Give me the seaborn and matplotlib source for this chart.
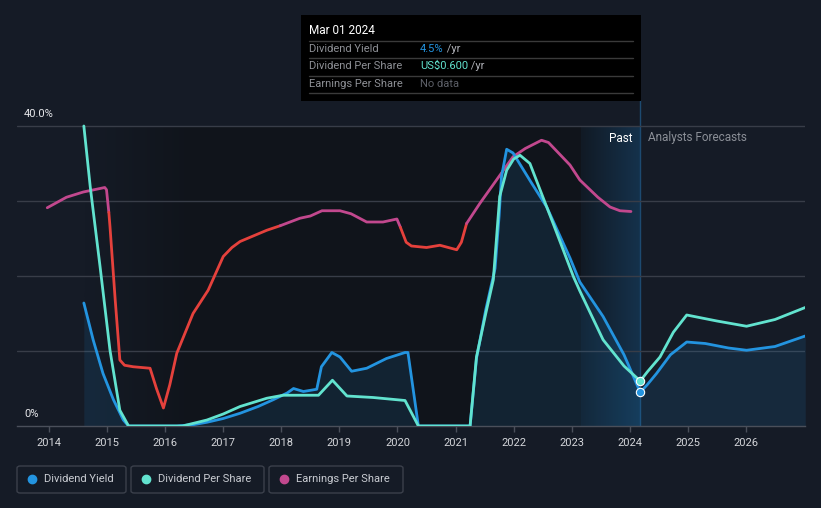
import numpy as np
import pandas as pd
import matplotlib
matplotlib.use("Agg")
import matplotlib.pyplot as plt
from matplotlib.patches import Rectangle, FancyBboxPatch
from matplotlib.colors import LinearSegmentedColormap
import seaborn as sns

# dividend yield (%)
dy_year = [2014.6, 2014.76, 2014.93, 2015.11, 2015.28, 2015.37, 2016.2, 2016.5, 2016.72, 2017.0,
           2017.29, 2017.6, 2017.86, 2018.1, 2018.21, 2018.38, 2018.61, 2018.69, 2018.87, 2019.01,
           2019.21, 2019.47, 2019.81, 2020.13, 2020.18, 2020.36, 2021.25, 2021.36, 2021.52, 2021.68,
           2021.75, 2021.79, 2021.88, 2021.99, 2022.3, 2022.57, 2022.97, 2023.14, 2023.54, 2023.9,
           2024.18, 2024.3, 2024.46, 2024.7, 2024.98, 2025.3, 2025.7, 2026.01, 2026.5, 2027.02]
dy_val = [16.4, 11.5, 7.0, 3.5, 0.8, 0.0, 0.0, 0.2, 0.5, 1.0,
          1.7, 2.6, 3.5, 4.4, 5.0, 4.6, 4.9, 7.9, 9.8, 9.2,
          7.3, 7.7, 9.0, 9.8, 9.8, 0.0, 0.0, 9.0, 15.5, 21.0,
          28.0, 33.2, 36.9, 36.4, 32.5, 29.2, 22.4, 19.2, 14.6, 9.5,
          4.5, 5.5, 7.0, 9.5, 11.2, 11.0, 10.4, 10.1, 10.6, 12.0]

# dividend per share, same scale as drawn
dps_year = [2014.6, 2014.71, 2014.88, 2015.05, 2015.22, 2015.37, 2016.3, 2016.72, 2017.0, 2017.29,
            2017.75, 2018.03, 2018.64, 2018.88, 2019.13, 2019.58, 2020.13, 2020.36, 2021.25, 2021.36,
            2021.52, 2021.65, 2021.76, 2021.88, 2022.0, 2022.11, 2022.28, 2022.68, 2023.03, 2023.14,
            2023.54, 2023.9, 2024.18, 2024.3, 2024.52, 2024.75, 2024.98, 2025.5, 2026.01, 2026.5, 2027.02]
dps_val = [40.0, 31.9, 21.2, 10.1, 2.1, 0.0, 0.0, 0.8, 1.6, 2.6,
           3.7, 4.1, 4.1, 6.1, 4.0, 3.8, 3.4, 0.0, 0.0, 9.2,
           15.0, 19.5, 30.6, 34.1, 35.6, 36.1, 35.0, 27.0, 19.9, 18.0,
           11.5, 8.0, 6.0, 7.2, 9.2, 12.5, 14.8, 14.0, 13.3, 14.2, 15.8]

# earnings per share, split where the line changes colour
eps_year = [2013.97, 2014.3, 2014.59, 2014.96, 2014.99, 2015.03,
            2015.03, 2015.05, 2015.14, 2015.22, 2015.3, 2015.45, 2015.74, 2015.85, 2015.97, 2016.08,
            2016.2, 2016.48, 2016.74, 2017.0, 2017.15, 2017.29, 2017.75, 2017.98,
            2017.98, 2018.32, 2018.5, 2018.7, 2019.01, 2019.2, 2019.47, 2019.75, 2019.99, 2020.05,
            2020.05, 2020.15, 2020.24, 2020.5, 2020.73, 2021.02, 2021.1, 2021.19,
            2021.19, 2021.42, 2021.99, 2022.2, 2022.48, 2022.6, 2022.97, 2023.14, 2023.45, 2023.66,
            2023.83, 2024.02]
eps_val = [29.1, 30.5, 31.2, 31.8, 31.5, 28.5,
           28.5, 26.6, 16.8, 8.8, 8.1, 7.9, 7.7, 5.0, 2.4, 5.5,
           9.7, 15.0, 18.1, 22.6, 23.8, 24.6, 26.1, 26.7,
           26.7, 27.7, 28.0, 28.7, 28.7, 28.3, 27.2, 27.2, 27.6, 26.5,
           26.5, 24.5, 24.0, 23.8, 24.1, 23.5, 24.5, 27.0,
           27.0, 29.7, 35.9, 37.0, 38.1, 37.8, 34.8, 32.8, 30.5, 29.2,
           28.7, 28.6]
eps_seg = [0] * 6 + [1] * 18 + [2] * 10 + [3] * 8 + [4] * 12
seg_trend = ["up", "down", "up", "down", "up"]

years = list(range(2014, 2027))
marker_year = 2024.18
past_start = 2023.16

BG = "#151b26"
DARK = "#10141b"
BLUE = "#2394e0"
TEAL = "#62e3cf"
MAGENTA = "#c2488e"
RED = "#e5413c"
GRID = "#383d48"

sns.set_style("dark", {"axes.facecolor": BG, "figure.facecolor": BG})

W, H = 821, 508
fig = plt.figure(figsize=(W / 100, H / 100), dpi=100)
fig.patch.set_facecolor(BG)
ax = fig.add_axes([17 / W, 82 / H, 788 / W, 326 / H])
ax.set_facecolor(BG)

x0 = 2014 + (17 - 49) / 58.08
x1 = 2014 + (805 - 49) / 58.08
ymax = (426 - 100) / 7.5
ax.set_xlim(x0, x1)
ax.set_ylim(0, ymax)


def fpos(x, y):
    return x / W, 1 - y / H


# past area fades darker towards the highlighted band before the marker
fade = LinearSegmentedColormap.from_list("fade", [BG, DARK])
ax.imshow(np.linspace(0, 1, 100).reshape(1, -1), cmap=fade, aspect="auto",
          extent=[2014.6, 2016.5, 0, 40], zorder=0.4)
ax.axvspan(2016.5, past_start, ymin=0, ymax=40 / ymax, color=DARK, zorder=0.4, lw=0)
cmap = LinearSegmentedColormap.from_list("band", ["#111a25", "#15324c"])
ax.imshow(np.linspace(0, 1, 100).reshape(1, -1), cmap=cmap, aspect="auto",
          extent=[past_start, marker_year, 0, 40], zorder=0.5)
ax.axvline(marker_year, ymin=0, ymax=1, color="#1d4a70", lw=1, zorder=1)

for g in [10, 20, 30, 40]:
    ax.axhline(g, color=GRID, lw=1, zorder=1)

ax.fill_between(dy_year, dy_val, 0, color=BLUE, alpha=0.12, lw=0, zorder=2)

dy = pd.DataFrame({"year": dy_year, "value": dy_val})
dps = pd.DataFrame({"year": dps_year, "value": dps_val})
eps = pd.DataFrame({"year": eps_year, "value": eps_val, "seg": eps_seg})

style = dict(lw=2, estimator=None, sort=False, ax=ax, solid_joinstyle="round", solid_capstyle="round")
sns.lineplot(data=dy, x="year", y="value", color=BLUE, zorder=4, **style)
sns.lineplot(data=dps, x="year", y="value", color=TEAL, zorder=4, **style)
for s, trend in enumerate(seg_trend):
    part = eps[eps["seg"] == s]
    sns.lineplot(data=part, x="year", y="value", color=MAGENTA if trend == "up" else RED,
                 zorder=3, **style)

ax.plot([marker_year], [dps_val[dps_year.index(marker_year)]], "o", color=TEAL, ms=6,
        mec="white", mew=0.8, zorder=6)
ax.plot([marker_year], [dy_val[dy_year.index(marker_year)]], "o", color=BLUE, ms=6,
        mec="white", mew=0.8, zorder=6)

for sp in ["top", "left", "right"]:
    ax.spines[sp].set_visible(False)
ax.spines["bottom"].set_color("#4a4f5a")
ax.spines["bottom"].set_linewidth(1)
ax.set_xticks(years)
ax.set_xticklabels([str(y) for y in years])
ax.tick_params(axis="x", colors="#4a4f5a", length=4, width=1, labelcolor="#d4d6da",
               labelsize=8, pad=5, bottom=True, direction="out")
ax.set_yticks([])
ax.set_xlabel("")
ax.set_ylabel("")
ax.grid(False)
for lbl in ax.get_xticklabels():
    lbl.set_family("Roboto")

fig.text(*fpos(24, 114), "40.0%", color="#e6e7ea", fontsize=8, family="Roboto", va="center")
fig.text(*fpos(24, 414), "0%", color="#e6e7ea", fontsize=8, family="Roboto", va="center")
fig.text(*fpos(632, 138), "Past", color="#ffffff", fontsize=8.5, family="Roboto", va="center", ha="right")
fig.text(*fpos(648, 138), "Analysts Forecasts", color="#8b8f97", fontsize=8.5, family="Roboto", va="center")

# tooltip box
fig.patches.append(Rectangle(fpos(301, 101), 340 / W, 86 / H, transform=fig.transFigure,
                             facecolor="#000000", edgecolor="none", zorder=10))
for yy in [41, 58, 76, 93]:
    fig.add_artist(plt.Line2D([309 / W, 633 / W], [1 - yy / H] * 2, color="#3a3a3a", lw=1, zorder=11))
fig.text(*fpos(309, 31), "Mar 01 2024", color="#ffffff", fontsize=8.5, family="Roboto", va="center", zorder=12)
rows = [("Dividend Yield", "4.5%", BLUE, " /yr", 49),
        ("Dividend Per Share", "US$0.600", TEAL, " /yr", 66),
        ("Earnings Per Share", "No data", "#5d6068", "", 84)]
for name, val, col, unit, yy in rows:
    fig.text(*fpos(309, yy), name, color="#8e9096", fontsize=8, family="Roboto", va="center", zorder=12)
    t = fig.text(*fpos(420, yy), val, color=col, fontsize=8, family="Roboto", va="center", zorder=12)
    if unit:
        fig.canvas.draw()
        bb = t.get_window_extent()
        fig.text(bb.x1 / W, 1 - yy / H, unit, color="#b0b2b8", fontsize=8, family="Roboto",
                 va="center", zorder=12)

# legend boxes
legend_items = [("Dividend Yield", BLUE, 17, 126), ("Dividend Per Share", TEAL, 131, 264),
                ("Earnings Per Share", MAGENTA, 269, 403)]
for name, col, lx, rx in legend_items:
    fig.patches.append(FancyBboxPatch(fpos(lx, 493), (rx - lx) / W, 27 / H,
                                      boxstyle="round,pad=0,rounding_size=0.004",
                                      transform=fig.transFigure, facecolor="none",
                                      edgecolor="#3b404b", lw=1))
    fig.add_artist(plt.Line2D([(lx + 15) / W], [1 - 479 / H], marker="o", color=col, ms=6,
                              transform=fig.transFigure))
    fig.text(*fpos(lx + 27, 479), name, color="#c9ccd2", fontsize=8, family="Roboto", va="center")

fig.savefig("out.png", dpi=100, facecolor=BG)
